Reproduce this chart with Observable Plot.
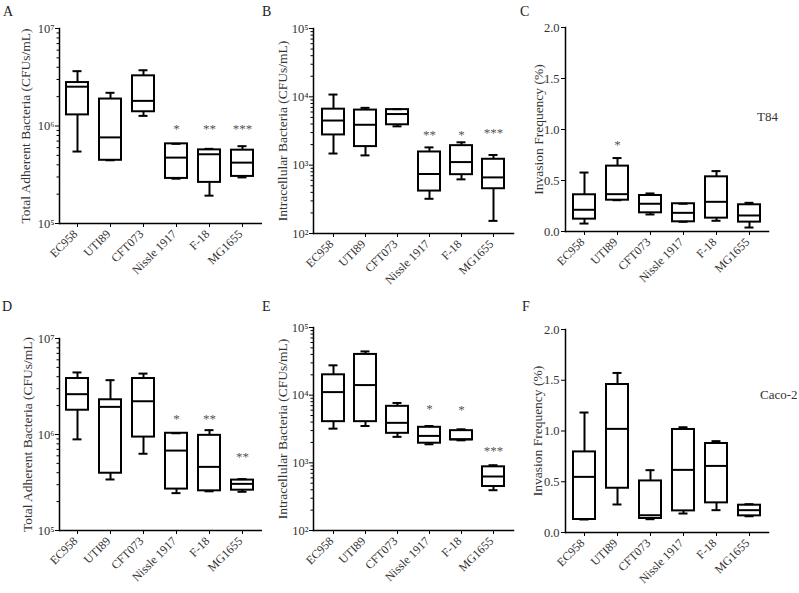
<!DOCTYPE html>
<html><head><meta charset="utf-8">
<script src="https://cdn.jsdelivr.net/npm/d3@7"></script>
<script src="https://cdn.jsdelivr.net/npm/@observablehq/plot@0.6"></script>
<style>
body{margin:0;background:#fff;}
#wrap{position:relative;width:799px;height:593px;font-family:"Liberation Serif",serif;background:#fff;overflow:hidden;}
.p{position:absolute;}
.p svg text{font-family:"Liberation Serif",serif;}
.lab{position:absolute;font-size:14px;line-height:14px;color:#222;}
.cell{position:absolute;font-size:13px;line-height:13px;color:#333;}
</style></head><body><div id="wrap"></div>
<script>
const strains = ["EC958", "UTI89", "CFT073", "Nissle 1917", "F-18", "MG1655"];

// each row: [min, q1, median, q3, max]
const adherentT84 = [
  [5.47e5, 1.30e6, 2.53e6, 2.79e6, 3.65e6],
  [4.45e5, 4.45e5, 7.64e5, 1.89e6, 2.19e6],
  [1.27e6, 1.40e6, 1.81e6, 3.27e6, 3.73e6],
  [2.88e5, 2.90e5, 4.74e5, 6.56e5, 6.56e5],
  [1.93e5, 2.64e5, 5.13e5, 5.69e5, 5.83e5],
  [2.97e5, 3.04e5, 4.21e5, 5.65e5, 6.21e5]
];
const adherentT84Sig = ["", "", "", "*", "**", "***"];
const adherentT84SigY = [null, null, null, 9.8e5, 9.8e5, 9.8e5];

const intracellT84 = [
  [1.48e3, 2.77e3, 4.5e3, 6.6e3, 1.08e4],
  [1.39e3, 1.87e3, 3.9e3, 6.4e3, 6.9e3],
  [3.7e3, 3.9e3, 5.6e3, 6.5e3, 6.6e3],
  [322, 418, 743, 1.56e3, 1.82e3],
  [620, 726, 1.11e3, 1.93e3, 2.16e3],
  [153, 452, 662, 1.22e3, 1.41e3]
];
const intracellT84Sig = ["", "", "", "**", "*", "***"];
const intracellT84SigY = [null, null, null, 3.0e3, 3.0e3, 3.2e3];

const invasionT84 = [
  [0.078, 0.121, 0.213, 0.36, 0.578],
  [0.307, 0.307, 0.366, 0.641, 0.72],
  [0.167, 0.183, 0.272, 0.353, 0.373],
  [0.095, 0.095, 0.183, 0.272, 0.272],
  [0.105, 0.131, 0.291, 0.536, 0.592],
  [0.039, 0.092, 0.157, 0.262, 0.281]
];
const invasionT84Sig = ["", "*", "", "", "", ""];
const invasionT84SigY = [null, 0.873, null, null, null, null];

const adherentCaco2 = [
  [8.9e5, 1.79e6, 2.63e6, 3.83e6, 4.43e6],
  [3.4e5, 3.95e5, 1.94e6, 2.3e6, 3.68e6],
  [6.3e5, 9.4e5, 2.22e6, 3.83e6, 4.31e6],
  [2.45e5, 2.7e5, 6.8e5, 1.03e6, 1.03e6],
  [2.56e5, 2.59e5, 4.6e5, 9.8e5, 1.11e6],
  [2.53e5, 2.63e5, 3.06e5, 3.35e5, 3.43e5]
];
const adherentCaco2Sig = ["", "", "", "*", "**", "**"];
const adherentCaco2SigY = [null, null, null, 1.54e6, 1.54e6, 6.2e5];

const intracellCaco2 = [
  [3.2e3, 4.06e3, 1.11e4, 2.0e4, 2.76e4],
  [3.5e3, 4.06e3, 1.41e4, 4.0e4, 4.43e4],
  [2.42e3, 2.73e3, 3.9e3, 6.84e3, 7.67e3],
  [1.88e3, 1.95e3, 2.5e3, 3.35e3, 3.5e3],
  [2.15e3, 2.18e3, 2.23e3, 2.99e3, 3.13e3],
  [394, 447, 628, 873, 922]
];
const intracellCaco2Sig = ["", "", "", "*", "*", "***"];
const intracellCaco2SigY = [null, null, null, 6.7e3, 6.4e3, 1.63e3];

const invasionCaco2 = [
  [0.128, 0.128, 0.548, 0.794, 1.182],
  [0.276, 0.436, 1.021, 1.458, 1.572],
  [0.131, 0.138, 0.17, 0.508, 0.614],
  [0.187, 0.213, 0.617, 1.015, 1.037],
  [0.22, 0.292, 0.656, 0.877, 0.9],
  [0.16, 0.164, 0.22, 0.269, 0.279]
];
const invasionCaco2Sig = ["", "", "", "", "", ""];
const invasionCaco2SigY = [null, null, null, null, null, null];

const invasionTicks = [0, 0.5, 1.0, 1.5, 2.0];
const labelAdherent = "Total Adherent Bacteria (CFUs/mL)";
const labelIntracell = "Intracellular Bacteria (CFUs/mL)";
const labelInvasion = "Invasion Frequency (%)";

const supDigits = {"0":"⁰","1":"¹","2":"²","3":"³","4":"⁴","5":"⁵","6":"⁶","7":"⁷","8":"⁸","9":"⁹"};
const powFmt = d => "10" + String(Math.round(Math.log10(d))).split("").map(c => supDigits[c]).join("");
const FONT = "'Liberation Serif', serif";

function makePanel(p) {
  const rows = strains.map((name, i) => ({name, min: p.data[i][0], q1: p.data[i][1], med: p.data[i][2], q3: p.data[i][3], max: p.data[i][4]}));
  const stars = strains.map((name, i) => ({name, s: p.sig[i], y: p.sigY[i]})).filter(d => d.s);
  let yAxes, yScale;
  if (p.log) {
    const lo = Math.round(Math.log10(p.domain[0])), hi = Math.round(Math.log10(p.domain[1]));
    const major = d3.range(lo, hi + 1).map(k => Math.pow(10, k));
    const minor = [];
    for (let k = lo; k < hi; k++) for (let m = 2; m <= 9; m++) minor.push(m * Math.pow(10, k));
    yScale = {type: "log", domain: p.domain};
    yAxes = [
      Plot.axisY(minor, {tickSize: 2.5, tickFormat: () => "", label: null, stroke: "black"}),
      Plot.axisY(major, {tickSize: 4, tickPadding: 1, tickFormat: powFmt, fontSize: 12.5, fontFamily: FONT, label: null, stroke: "black", fill: "#333"})
    ];
  } else {
    yScale = {domain: p.domain};
    yAxes = [Plot.axisY(invasionTicks, {tickSize: 4, tickPadding: 2, tickFormat: d3.format(".1f"), fontSize: 12.5, fontFamily: FONT, label: null, stroke: "black", fill: "#333"})];
  }
  return Plot.plot({
    width: p.w, height: p.h,
    marginLeft: p.ml, marginRight: p.mr, marginTop: p.mt, marginBottom: p.mb,
    style: {fontFamily: FONT, color: "#333", background: "white", overflow: "visible"},
    x: {domain: strains, paddingInner: 0.32, paddingOuter: 0.2},
    y: yScale,
    marks: [
      ...yAxes,
      Plot.axisX({tickSize: 4, tickFormat: () => "", label: null, stroke: "black"}),
      Plot.text(strains, {x: d => d, frameAnchor: "bottom", rotate: -45, textAnchor: "end", lineAnchor: "middle", dx: -2, dy: 8.5, text: d => d, fontSize: 12, fontFamily: FONT, fill: "#333"}),
      Plot.frame({anchor: "left", stroke: "black", strokeWidth: 1.5}),
      Plot.frame({anchor: "bottom", stroke: "black", strokeWidth: 1.5}),
      Plot.ruleX(rows, {x: "name", y1: "min", y2: "max", stroke: "black", strokeWidth: 2}),
      Plot.barY(rows, {x: "name", y1: "q1", y2: "q3", fill: "white", stroke: "black", strokeWidth: 2}),
      Plot.tickY(rows, {x: "name", y: "med", stroke: "black", strokeWidth: 2}),
      Plot.tickY(rows, {x: "name", y: "max", stroke: "black", strokeWidth: 2, insetLeft: 6.5, insetRight: 6.5}),
      Plot.tickY(rows, {x: "name", y: "min", stroke: "black", strokeWidth: 2, insetLeft: 6.5, insetRight: 6.5}),
      Plot.text(stars, {x: "name", y: "y", text: "s", fontSize: 13, fontFamily: FONT, fill: "#555", dy: 2}),
      Plot.text([p.ylabel], {frameAnchor: "left", textAnchor: "middle", lineAnchor: "middle", rotate: -90, dx: p.ldx, text: d => d, fontSize: 13.5, fontFamily: FONT, fill: "#333"})
    ]
  });
}

const panels = [
  {x: 0,   y: 0,   w: 262, h: 296, ml: 59, mr: 1,  mt: 28, mb: 73, data: adherentT84, sig: adherentT84Sig, sigY: adherentT84SigY, log: true, domain: [1e5, 1e7], ylabel: labelAdherent, ldx: -34},
  {x: 262, y: 0,   w: 258, h: 296, ml: 51, mr: 7,  mt: 28, mb: 63, data: intracellT84, sig: intracellT84Sig, sigY: intracellT84SigY, log: true, domain: [1e2, 1e5], ylabel: labelIntracell, ldx: -31},
  {x: 520, y: 0,   w: 279, h: 296, ml: 45, mr: 31, mt: 27, mb: 65, data: invasionT84, sig: invasionT84Sig, sigY: invasionT84SigY, log: false, domain: [0, 2], ylabel: labelInvasion, ldx: -27},
  {x: 0,   y: 296, w: 262, h: 297, ml: 59, mr: 1,  mt: 42, mb: 63, data: adherentCaco2, sig: adherentCaco2Sig, sigY: adherentCaco2SigY, log: true, domain: [1e5, 1e7], ylabel: labelAdherent, ldx: -32},
  {x: 262, y: 296, w: 258, h: 297, ml: 51, mr: 7,  mt: 31, mb: 63, data: intracellCaco2, sig: intracellCaco2Sig, sigY: intracellCaco2SigY, log: true, domain: [1e2, 1e5], ylabel: labelIntracell, ldx: -31},
  {x: 520, y: 296, w: 279, h: 297, ml: 45, mr: 31, mt: 33, mb: 61, data: invasionCaco2, sig: invasionCaco2Sig, sigY: invasionCaco2SigY, log: false, domain: [0, 2], ylabel: labelInvasion, ldx: -28}
];

const wrap = document.getElementById("wrap");
panels.forEach(p => {
  const div = document.createElement("div");
  div.className = "p";
  div.style.left = p.x + "px";
  div.style.top = p.y + "px";
  div.appendChild(makePanel(p));
  wrap.appendChild(div);
});

const letters = [["A", 3, 5], ["B", 262, 5], ["C", 520, 5], ["D", 2, 300], ["E", 262, 300], ["F", 522, 300]];
letters.forEach(([t, x, y]) => {
  const d = document.createElement("div");
  d.className = "lab"; d.textContent = t;
  d.style.left = x + "px"; d.style.top = y + "px";
  wrap.appendChild(d);
});
const cells = [["T84", 757, 110], ["Caco-2", 760, 388]];
cells.forEach(([t, x, y]) => {
  const d = document.createElement("div");
  d.className = "cell"; d.textContent = t;
  d.style.left = x + "px"; d.style.top = y + "px";
  wrap.appendChild(d);
});
</script></body></html>
